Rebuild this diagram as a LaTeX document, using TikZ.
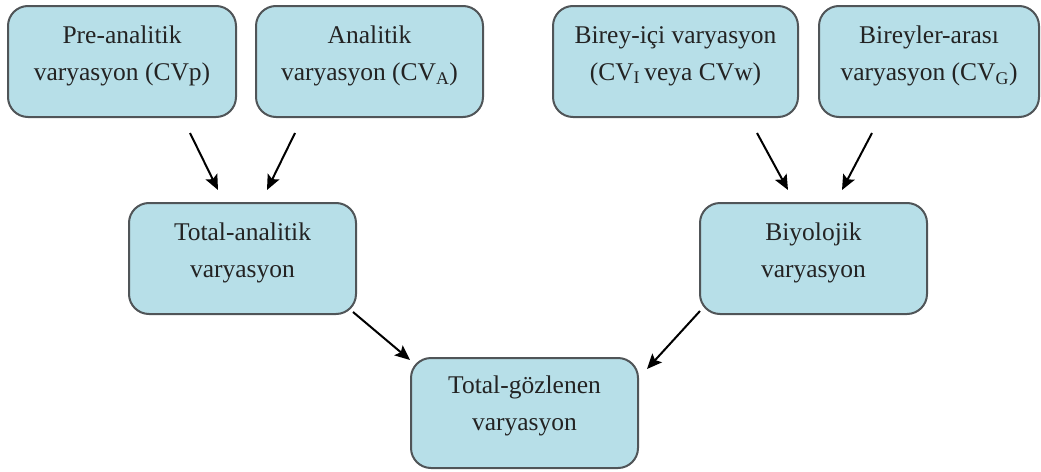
\documentclass[tikz,border=0pt]{standalone}
\usepackage{fontspec}
\setmainfont{Liberation Serif}
\newfontfamily\boxfont{Liberation Serif}
\usetikzlibrary{arrows.meta,calc}
\definecolor{boxfill}{RGB}{183,223,232}
\definecolor{boxline}{RGB}{80,85,88}
\definecolor{txt}{RGB}{35,35,35}
\tikzset{
 box/.style={draw=boxline, line width=2pt, fill=boxfill, rounded corners=20pt, anchor=north west, inner sep=0pt},
 lbl/.style={anchor=north, align=center, inner sep=0pt, text=txt, font=\boxfont\fontsize{25.5}{37}\selectfont},
 arr/.style={-{Stealth[length=15pt,width=13pt,inset=3pt]}, line width=2pt, black}
}
\begin{document}
\begin{tikzpicture}[x=1pt,y=-1pt]
\useasboundingbox (0,0) rectangle (1041,471);
% boxes
\node[box, minimum width=228pt, minimum height=111pt] (b1) at (7,5) {};
\node[box, minimum width=227pt, minimum height=111pt] (b2) at (255,5) {};
\node[box, minimum width=245pt, minimum height=111pt] (b3) at (552,5) {};
\node[box, minimum width=220pt, minimum height=111pt] (b4) at (818,5) {};
\node[box, minimum width=227pt, minimum height=111pt] (b5) at (128,202) {};
\node[box, minimum width=227pt, minimum height=111pt] (b6) at (699,202) {};
\node[box, minimum width=227pt, minimum height=110pt] (b7) at (410,357) {};
% labels
\node[lbl] (t1) at ($(b1.north)+(0,21)$) {Pre-analitik\\varyasyon (CVp)};
\node[lbl] (t2) at ($(b2.north)+(0,21)$) {Analitik\\varyasyon (CV\textsubscript{A})};
\node[lbl] (t3) at ($(b3.north)+(0,21)$) {Birey-içi varyasyon\\(CV\textsubscript{I}\,veya CVw)};
\node[lbl] (t4) at ($(b4.north)+(0,21)$) {Bireyler-arası\\varyasyon (CV\textsubscript{G})};
\node[lbl] (t5) at ($(b5.north)+(0,21)$) {Total-analitik\\varyasyon};
\node[lbl] (t6) at ($(b6.north)+(0,21)$) {Biyolojik\\varyasyon};
\node[lbl] (t7) at ($(b7.north)+(0,19)$) {Total-gözlenen\\varyasyon};
% arrow ends
\coordinate (a1s) at (190,133); \coordinate (a1e) at (218,190);
\coordinate (a2s) at (295,133); \coordinate (a2e) at (267,190);
\coordinate (a3s) at (757,133); \coordinate (a3e) at (788,190);
\coordinate (a4s) at (872,133); \coordinate (a4e) at (842,190);
\coordinate (a5s) at (353,312); \coordinate (a5e) at (410,360);
\coordinate (a6s) at (700,311); \coordinate (a6e) at (647,369);
\draw[arr] (a1s) -- (a1e);
\draw[arr] (a2s) -- (a2e);
\draw[arr] (a3s) -- (a3e);
\draw[arr] (a4s) -- (a4e);
\draw[arr] (a5s) -- (a5e);
\draw[arr] (a6s) -- (a6e);
\end{tikzpicture}
\end{document}
